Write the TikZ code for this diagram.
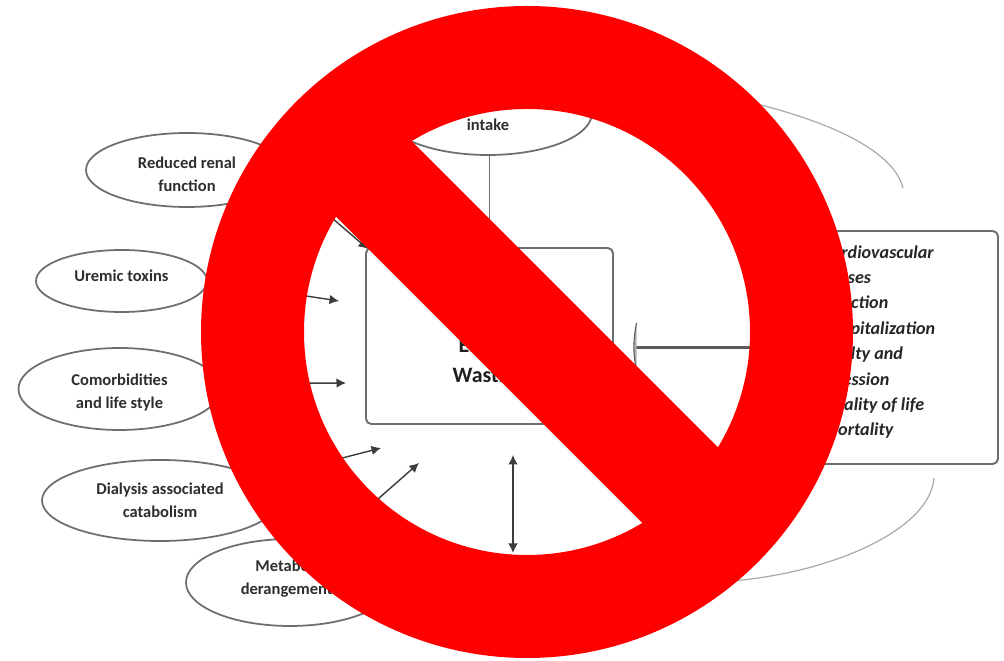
\documentclass[tikz,border=0pt]{standalone}
\usepackage{fontspec}
\setmainfont{Carlito}
\usepackage{xcolor}
\usepackage{tikz}
\usetikzlibrary{arrows.meta,shapes.geometric}
\definecolor{banred}{HTML}{FF0000}
\definecolor{outline}{HTML}{6E6E6E}
\definecolor{arrowline}{HTML}{3C3C3C}
\definecolor{sweep}{HTML}{ABABAB}
\tikzset{
  cause/.style={
    ellipse,
    draw=outline,
    line width=1.0pt,
    fill=white,
    inner sep=0pt,
    align=center,
    text=black!82,
    font=\fontsize{9.4}{13}\selectfont\bfseries
  },
  wastingBox/.style={rounded corners=3pt, draw=outline, line width=1.1pt, fill=white, inner sep=0pt},
  wastingText/.style={font=\fontsize{12.5}{17}\selectfont\bfseries, align=center, text=black!88},
  outcomeText/.style={font=\fontsize{10.3}{14.45}\selectfont\bfseries\itshape, align=left, text=black!85, inner sep=0pt},
  edgeArrow/.style={line width=0.8pt, draw=arrowline, -{Latex[length=1.9mm,width=1.9mm]}},
  bothArrow/.style={line width=0.8pt, draw=arrowline, {Latex[length=1.9mm,width=1.9mm]}-{Latex[length=1.9mm,width=1.9mm]}},
  plainLink/.style={line width=1.0pt, draw=outline},
  heavyLink/.style={line width=1.5pt, draw=black!65},
  sweepLine/.style={line width=0.7pt, draw=sweep},
  ban/.style={draw=banred}
}
\newcommand{\outcomeindent}{\hspace*{8pt}}
\begin{document}
\begin{tikzpicture}[x=1cm,y=1cm]
\path[use as bounding box] (0,0) rectangle (20.08,13.22);
\fill[white] (0,0) rectangle (20.08,13.22);

\node[cause, minimum width=4.04cm, minimum height=1.48cm] (reduced) at (3.74,9.82) {\rule{0pt}{11.6pt}Reduced renal\\function};
\node[cause, minimum width=3.42cm, minimum height=1.24cm] (uremic) at (2.43,7.60) {Uremic toxins\rule[-6.5pt]{0pt}{0pt}};
\node[cause, minimum width=4.04cm, minimum height=1.64cm] (comorb) at (2.39,5.44) {\rule{0pt}{11pt}Comorbidities\\and life style};
\node[cause, minimum width=4.72cm, minimum height=1.62cm] (dialysis) at (3.20,3.21) {Dialysis associated\\catabolism};
\node[cause, minimum width=4.16cm, minimum height=1.74cm] (metabolic) at (5.80,1.57) {Metabolic\\derangements\rule[-6.5pt]{0pt}{0pt}};
\node[cause, minimum width=4.16cm, minimum height=1.68cm] (intake) at (9.76,10.96) {\rule{0pt}{19.6pt}intake};

\node[wastingBox, minimum width=4.94cm, minimum height=3.52cm] (wasting) at (9.79,6.50) {};
\node[wastingText] (wastingLabel) at (9.79,5.98) {Energy\\Wasting};
\node[wastingBox, minimum width=4.16cm, minimum height=4.66cm] (outcomes) at (17.88,6.27) {};
\node[outcomeText, anchor=west] (outcomeList) at (16.16,6.38) {\outcomeindent Cardiovascular\\diseases\\\outcomeindent Infection\\\outcomeindent Hospitalization\\\outcomeindent Frailty and\\depression\\\outcomeindent Quality of life\\\outcomeindent Mortality};

\coordinate (renalTip) at (7.36,8.24);
\coordinate (uremicTip) at (6.78,7.20);
\coordinate (comorbTip) at (6.92,5.56);
\coordinate (dialysisTip) at (7.62,4.26);
\coordinate (metabolicTip) at (8.38,3.96);
\coordinate (loopTop) at (10.26,4.12);
\coordinate (loopBottom) at (10.26,2.16);
\coordinate (barTop) at (12.73,6.76);
\coordinate (barMid) at (12.68,6.27);
\coordinate (barBottom) at (12.73,5.80);
\coordinate (sweepA) at (14.80,11.22);
\coordinate (sweepB) at (18.06,9.46);
\coordinate (sweepC) at (18.68,3.66);
\coordinate (sweepD) at (14.40,1.58);

\draw[edgeArrow] (reduced.-5) -- (renalTip);
\draw[edgeArrow] (uremic.east) -- (uremicTip);
\draw[edgeArrow] (comorb.3.5) -- (comorbTip);
\draw[edgeArrow] (dialysis.12) -- (dialysisTip);
\draw[edgeArrow] (metabolic.46) -- (metabolicTip);
\draw[bothArrow] (loopTop) -- (loopBottom);
\draw[plainLink] (intake.south -| wasting.north) -- (wasting.north);
\draw[heavyLink] (outcomes.west) -- (barMid);
\draw[line width=0.6pt, draw=black!65, fill=black!30] (barTop) .. controls (12.66,6.40) and (12.66,6.15) .. (barBottom);
\draw[sweepLine] (sweepA) .. controls (16.40,10.86) and (17.86,10.26) .. (sweepB);
\draw[sweepLine] (sweepC) .. controls (18.60,2.62) and (16.60,1.72) .. (sweepD);

% prohibition sign over the diagram
\draw[ban, line width=2.06cm] (10.54,6.58) circle (5.49);
\draw[ban, line width=2.14cm] ([shift={(135:5.49)}]10.54,6.58) -- ([shift={(-45:5.49)}]10.54,6.58);
\end{tikzpicture}
\end{document}
